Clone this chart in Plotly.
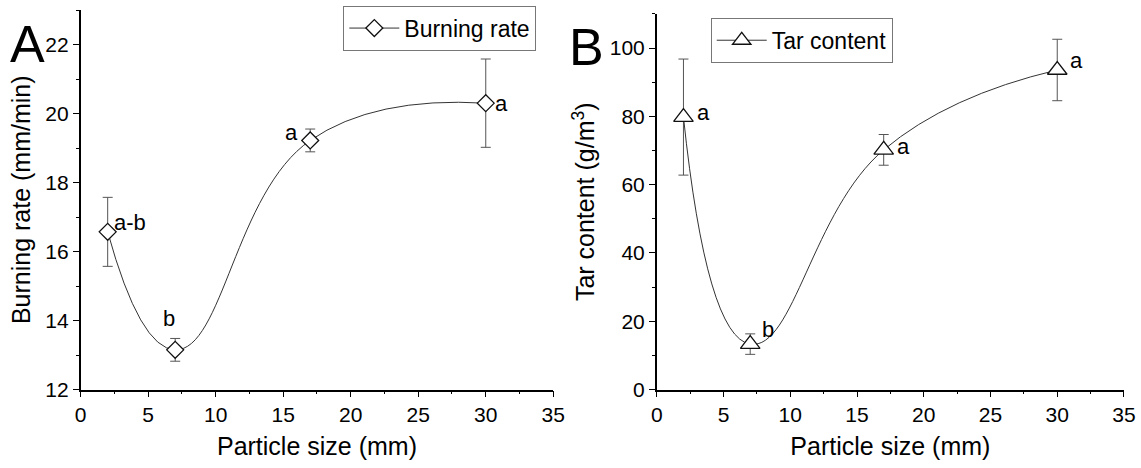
import plotly.graph_objects as go

# Particle size groups (mm)
particle_size = [2, 7, 17, 30]

# Panel A: burning rate (mm/min) with standard deviations
burning_rate = [16.57, 13.15, 19.22, 20.30]
burning_err = [1.00, 0.33, 0.33, 1.28]
burning_groups = ["a-b", "b", "a", "a"]

# Panel B: tar content (g/m3) with standard deviations
tar_content = [79.8, 13.3, 70.2, 93.6]
tar_err = [17.0, 3.0, 4.5, 9.0]
tar_groups = ["a", "b", "a", "a"]

FONT = "Liberation Sans, Arial, sans-serif"
LINE_COL = "#333333"
ERR_COL = "#555555"

fig = go.Figure()

fig.add_trace(go.Scatter(
    x=particle_size, y=burning_rate, name="Burning rate",
    mode="lines+markers", line=dict(shape="spline", smoothing=1.3, color=LINE_COL, width=1),
    marker=dict(symbol="diamond", size=13, color="white", line=dict(color="#111111", width=1.3)),
    error_y=dict(type="data", array=burning_err, color=ERR_COL, thickness=1, width=5),
    xaxis="x", yaxis="y", legend="legend",
))

fig.add_trace(go.Scatter(
    x=particle_size, y=tar_content, name="Tar content",
    mode="lines+markers", line=dict(shape="spline", smoothing=1.3, color=LINE_COL, width=1),
    marker=dict(symbol="triangle-up", size=17, color="white", line=dict(color="#111111", width=1.3)),
    error_y=dict(type="data", array=tar_err, color=ERR_COL, thickness=1, width=5),
    xaxis="x2", yaxis="y2", legend="legend2",
))

axis_common = dict(
    showline=True, linecolor="black", linewidth=1.5, mirror=False,
    showgrid=False, zeroline=False, automargin=False,
    ticks="outside", ticklen=6, tickwidth=1.3, tickcolor="black",
    tickfont=dict(family=FONT, size=21, color="black"),
)
title_font = dict(family=FONT, size=25, color="black")

legend_common = dict(
    xanchor="left", yanchor="top", bordercolor="#777777", borderwidth=1,
    bgcolor="white", itemwidth=50, font=dict(family=FONT, size=23, color="black"),
)

fig.update_layout(
    width=1141, height=468,
    margin=dict(l=0, r=0, t=0, b=0, autoexpand=False),
    paper_bgcolor="white", plot_bgcolor="white",
    font=dict(family=FONT, color="black"),
    xaxis=dict(domain=[0.0707, 0.4849], range=[0, 35], dtick=5, anchor="y",
               minor=dict(dtick=2.5, ticklen=3, ticks="outside", tickcolor="black"),
               title=dict(text="Particle size (mm)", font=title_font, standoff=12),
               **axis_common),
    yaxis=dict(domain=[0.1677, 0.9786], range=[12, 23], tick0=12, dtick=2, anchor="x",
               minor=dict(dtick=1, ticklen=3, ticks="outside", tickcolor="black"),
               title=dict(text="Burning rate (mm/min)", font=title_font, standoff=8),
               **axis_common),
    xaxis2=dict(domain=[0.5756, 0.9851], range=[0, 35], dtick=5, anchor="y2",
                minor=dict(dtick=2.5, ticklen=3, ticks="outside", tickcolor="black"),
                title=dict(text="Particle size (mm)", font=title_font, standoff=12),
                **axis_common),
    yaxis2=dict(domain=[0.1677, 0.9701], range=[0, 110], dtick=20, anchor="x2",
                minor=dict(dtick=10, ticklen=3, ticks="outside", tickcolor="black"),
                title=dict(text="Tar content (g/m<sup>3</sup>)", font=title_font, standoff=8),
                **axis_common),
    legend=dict(x=0.3009, y=0.988, **legend_common),
    legend2=dict(x=0.6229, y=0.962, **legend_common),
    showlegend=True,
)

# Significance letters next to each point (pixel offsets relative to the point)
label_font = dict(family=FONT, size=22, color="black")
a_offsets = [(22, 9), (-6, 31), (-19, 8), (16, 0)]
for xv, yv, txt, (dx, dy) in zip(particle_size, burning_rate, burning_groups, a_offsets):
    fig.add_annotation(x=xv, y=yv, xref="x", yref="y", text=txt, showarrow=False,
                       xshift=dx, yshift=dy, font=label_font)

b_offsets = [(20, 5), (18, 15), (20, 3), (19, 9)]
for xv, yv, txt, (dx, dy) in zip(particle_size, tar_content, tar_groups, b_offsets):
    fig.add_annotation(x=xv, y=yv, xref="x2", yref="y2", text=txt, showarrow=False,
                       xshift=dx, yshift=dy, font=label_font)

# Panel letters
panel_font = dict(family=FONT, size=52, color="black")
fig.add_annotation(x=27.5 / 1141, y=1 - 44 / 468, xref="paper", yref="paper", text="A",
                   showarrow=False, font=panel_font, xanchor="center", yanchor="middle")
fig.add_annotation(x=586 / 1141, y=1 - 47 / 468, xref="paper", yref="paper", text="B",
                   showarrow=False, font=panel_font, xanchor="center", yanchor="middle")

fig.write_html("out.html")
